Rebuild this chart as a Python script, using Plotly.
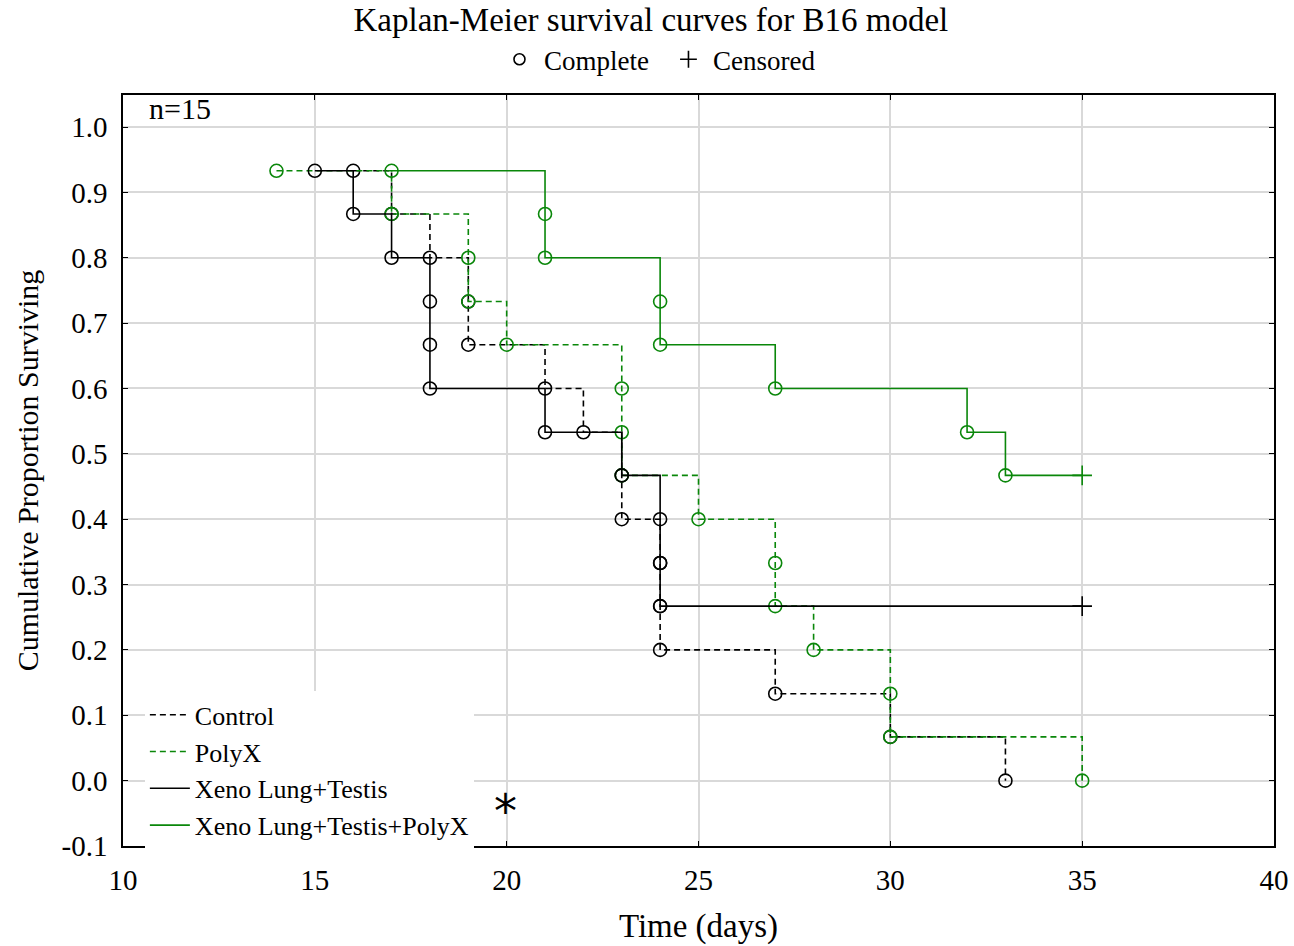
import plotly.graph_objects as go

# ---- data ----
ctrl_t = [16, 17, 18, 19, 19, 21, 22, 23, 23, 24, 24, 24, 27, 30, 33]
ctrl_s = [0.933, 0.867, 0.800, 0.733, 0.667, 0.600, 0.533, 0.467, 0.400, 0.333, 0.267, 0.200, 0.133, 0.067, 0.000]

polyx_t = [14, 17, 19, 19, 20, 23, 23, 23, 25, 27, 27, 28, 30, 30, 35]
polyx_s = [0.933, 0.867, 0.800, 0.733, 0.667, 0.600, 0.533, 0.467, 0.400, 0.333, 0.267, 0.200, 0.133, 0.067, 0.000]

xlt_t = [15, 16, 17, 18, 18, 18, 21, 23, 24, 24, 24]
xlt_s = [0.933, 0.867, 0.800, 0.733, 0.667, 0.600, 0.533, 0.467, 0.400, 0.333, 0.267]
xlt_cens_t = [35]
xlt_cens_s = [0.267]

xltp_t = [17, 21, 21, 24, 24, 27, 32, 33]
xltp_s = [0.933, 0.867, 0.800, 0.733, 0.667, 0.600, 0.533, 0.467]
xltp_cens_t = [35]
xltp_cens_s = [0.467]

y_tick_vals = [-0.1, 0.0, 0.1, 0.2, 0.3, 0.4, 0.5, 0.6, 0.7, 0.8, 0.9, 1.0]
y_tick_text = ["-0.1", "0.0", "0.1", "0.2", "0.3", "0.4", "0.5", "0.6", "0.7", "0.8", "0.9", "1.0"]
x_tick_vals = [10, 15, 20, 25, 30, 35, 40]

# ---- style ----
FONT = "Liberation Serif, Times New Roman, serif"
GREEN = "#0a870a"
BLACK = "#000000"
DASH = "6px,4px"

fig = go.Figure()


def add_series(name, t, s, color, dash, cens_t=None, cens_s=None):
    xs = list(t)
    ys = list(s)
    if cens_t:
        xs += list(cens_t)
        ys += list(cens_s)
    fig.add_trace(go.Scatter(
        x=xs, y=ys, mode="lines", name=name, line_shape="hv",
        line=dict(color=color, width=1.6, dash=dash), legend="legend",
    ))
    fig.add_trace(go.Scatter(
        x=t, y=s, mode="markers", showlegend=False, hoverinfo="skip",
        marker=dict(symbol="circle-open", size=13, color=color, line=dict(width=1.6, color=color)),
    ))
    if cens_t:
        fig.add_trace(go.Scatter(
            x=cens_t, y=cens_s, mode="markers", showlegend=False, hoverinfo="skip",
            marker=dict(symbol="cross-thin-open", size=14, color=color, line=dict(width=1.6, color=color)),
        ))


add_series("Control", ctrl_t, ctrl_s, BLACK, DASH)
add_series("PolyX", polyx_t, polyx_s, GREEN, DASH)
add_series("Xeno Lung+Testis", xlt_t, xlt_s, BLACK, "solid", xlt_cens_t, xlt_cens_s)
add_series("Xeno Lung+Testis+PolyX", xltp_t, xltp_s, GREEN, "solid", xltp_cens_t, xltp_cens_s)

# marker-key legend (Complete / Censored)
fig.add_trace(go.Scatter(x=[None], y=[None], mode="markers", name="Complete", legend="legend2",
                         marker=dict(symbol="circle-open", size=11, color=BLACK, line=dict(width=1.6))))
fig.add_trace(go.Scatter(x=[None], y=[None], mode="markers", name="Censored", legend="legend2",
                         marker=dict(symbol="cross-thin-open", size=12, color=BLACK, line=dict(width=1.6))))

fig.update_layout(
    width=1294, height=946,
    paper_bgcolor="white", plot_bgcolor="white",
    margin=dict(l=123, r=20, t=95, b=100, autoexpand=False),
    font=dict(family=FONT, color="black", size=24),
    title=dict(text="Kaplan-Meier survival curves for B16 model", x=0.503, xanchor="center",
               y=0.979, yref="container", yanchor="middle", font=dict(size=33, family=FONT)),
    legend=dict(x=0.019, y=0.206, xanchor="left", yanchor="top", bgcolor="white",
                font=dict(size=26, family=FONT), tracegroupgap=0, itemwidth=40,
                borderwidth=0),
    legend2=dict(orientation="h", x=0.4700, y=1.047, xanchor="center", yanchor="middle",
                 bgcolor="rgba(0,0,0,0)", font=dict(size=27, family=FONT), itemwidth=39,
                 entrywidth=115),
    xaxis=dict(range=[10, 40], tickvals=x_tick_vals, showgrid=True, gridcolor="#d9d9d9", gridwidth=1.5,
               zeroline=False, showline=True, linecolor="black", linewidth=1.6, mirror="ticks",
               ticks="inside", ticklen=5, tickcolor="black", tickfont=dict(size=29, family=FONT),
               ticklabelstandoff=7, automargin=False,
               title=dict(text="Time (days)", font=dict(size=33, family=FONT), standoff=19)),
    yaxis=dict(range=[-0.1, 1.049], tickvals=y_tick_vals, ticktext=y_tick_text, showgrid=True,
               gridcolor="#d9d9d9", gridwidth=1.5, zeroline=False, showline=True, linecolor="black",
               linewidth=1.6, mirror="ticks", ticks="inside", ticklen=5, tickcolor="black",
               tickfont=dict(size=29, family=FONT), ticklabelstandoff=8, automargin=False,
               title=dict(text="Cumulative Proportion Surviving", font=dict(size=30, family=FONT), standoff=14)),
    showlegend=True,
)

fig.add_annotation(text="n=15", xref="paper", yref="paper", x=0.0205, y=0.982, xanchor="left", yanchor="middle",
                   showarrow=False, font=dict(size=30, family=FONT))
fig.add_annotation(text="*", xref="x", yref="y", x=19.98, y=-0.047, xanchor="center", yanchor="middle",
                   showarrow=False, font=dict(size=46, family="DejaVu Sans"))

fig.write_html("out.html", config={"displayModeBar": False},
               post_script="document.body.style.margin='0';document.body.style.padding='0';")
